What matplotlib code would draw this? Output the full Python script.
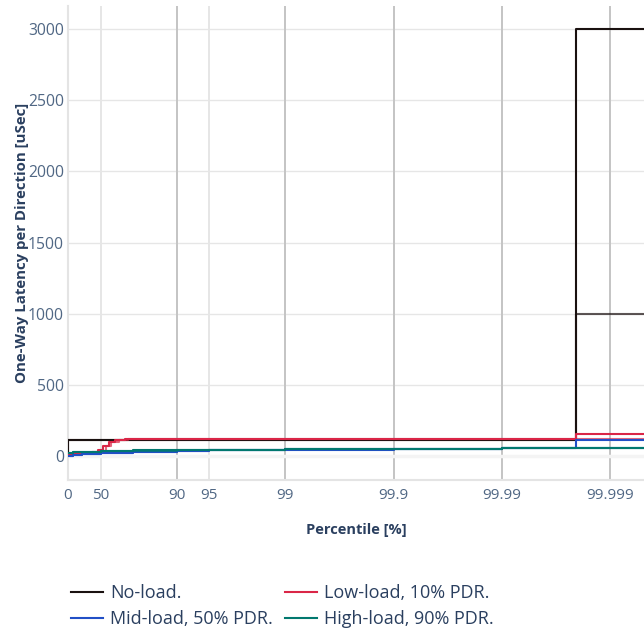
import numpy as np
import matplotlib
matplotlib.use("Agg")
import matplotlib.pyplot as plt

plt.rcParams['font.family'] = ['Open Sans', 'DejaVu Sans']

# percentile [%] -> one-way latency [uSec], two directions per load level
noload_p1 = [0, 1, 99.9979, 99.99999]
noload_l1 = [25, 112, 3000, 3000]
noload_p2 = [0, 1, 99.9979, 99.99999]
noload_l2 = [25, 114, 1000, 1000]

low_p1 = [0, 10, 25, 40, 47, 52, 58, 63, 70, 99.9979, 99.99999]
low_l1 = [5, 15, 22, 30, 40, 72, 95, 112, 118, 155, 155]
low_p2 = [0, 10, 25, 40, 50, 55, 60, 66, 72, 99.9979, 99.99999]
low_l2 = [5, 14, 21, 28, 38, 68, 100, 110, 117, 120, 120]

mid_p1 = [0, 10, 25, 50, 75, 90, 95, 99, 99.9, 99.99, 99.9979, 99.99999]
mid_l1 = [2, 8, 13, 20, 28, 36, 40, 45, 50, 55, 112, 112]
mid_p2 = [0, 10, 25, 50, 75, 90, 95, 99, 99.9, 99.99, 99.999, 99.99999]
mid_l2 = [3, 9, 14, 21, 29, 37, 41, 46, 51, 55, 57, 58]

high_p1 = [0, 10, 25, 50, 75, 90, 95, 99, 99.9, 99.99, 99.999, 99.99999]
high_l1 = [22, 26, 30, 34, 39, 42, 45, 48, 51, 54, 56, 57]
high_p2 = [0, 10, 25, 50, 75, 90, 95, 99, 99.9, 99.99, 99.999, 99.99999]
high_l2 = [20, 25, 29, 33, 38, 42, 44, 47, 50, 53, 55, 56]

tick_pct = [0, 50, 90, 95, 99, 99.9, 99.99, 99.999]
tick_txt = ["0", "50", "90", "95", "99", "99.9", "99.99", "99.999"]
major_pct = [90, 99, 99.9, 99.99, 99.999]


def tx(p):
    return np.log10(100.0 / (100.0 - np.array(p, dtype=float)))


fig = plt.figure(figsize=(6.44, 6.37), dpi=100)
ax = fig.add_axes([68 / 644, 1 - 480 / 637, (644 - 68) / 644, (480 - 6) / 637])

for x in tx(tick_pct):
    ax.axvline(x, color='#e2e2e2', lw=1.2, zorder=0)
for x in tx(major_pct):
    ax.axvline(x, color='#c2c2c2', lw=1.3, zorder=0.5)
for y in range(500, 3001, 500):
    ax.axhline(y, color='#e6e6e6', lw=1.0, zorder=0)
ax.axhline(0, color='#f4f4f4', lw=2.5, zorder=1)

traces = [
    ("No-load.", "#1A1110", noload_p1, noload_l1, noload_p2, noload_l2),
    ("Low-load, 10% PDR.", "#DA2647", low_p1, low_l1, low_p2, low_l2),
    ("Mid-load, 50% PDR.", "#214FC6", mid_p1, mid_l1, mid_p2, mid_l2),
    ("High-load, 90% PDR.", "#01786F", high_p1, high_l1, high_p2, high_l2),
]
handles = []
for name, col, p1, l1, p2, l2 in traces:
    h, = ax.plot(tx(p1), l1, drawstyle='steps-post', color=col, lw=1.5, zorder=3)
    ax.plot(tx(p2), l2, drawstyle='steps-post', color=col, lw=1.5, alpha=0.7, zorder=3)
    handles.append((h, name))

ax.set_xlim(0, (644 - 68) / 108.5)
ax.set_ylim(-168.6, 3161.6)
ax.set_xticks(tx(tick_pct))
ax.set_xticklabels(tick_txt)
ax.set_yticks(range(0, 3001, 500))
ax.tick_params(axis='x', length=0, labelsize=11, labelcolor='#506784', pad=6)
ax.tick_params(axis='y', length=0, labelsize=11.3, labelcolor='#506784', pad=3)
for s in ['top', 'right']:
    ax.spines[s].set_visible(False)
for s in ['left', 'bottom']:
    ax.spines[s].set_color('#e4e4e4')
    ax.spines[s].set_linewidth(1.5)

ax.set_xlabel("Percentile [%]", fontsize=10.5, fontweight='bold', color='#2a3f5f', labelpad=14)
ax.set_ylabel("One-Way Latency per Direction [uSec]", fontsize=10.8, fontweight='bold',
              color='#2a3f5f', labelpad=-1)

order = [0, 2, 1, 3]
leg = fig.legend([handles[i][0] for i in order], [handles[i][1] for i in order],
                 loc='upper left', bbox_to_anchor=(71 / 644, 1 - 584 / 637), ncol=2,
                 frameon=False, fontsize=13, handlelength=1.75, handletextpad=0.4,
                 columnspacing=0.68, labelspacing=0.45, borderpad=0, borderaxespad=0)
for t in leg.get_texts():
    t.set_color('#2a3f5f')

fig.savefig("out.png", dpi=100)
